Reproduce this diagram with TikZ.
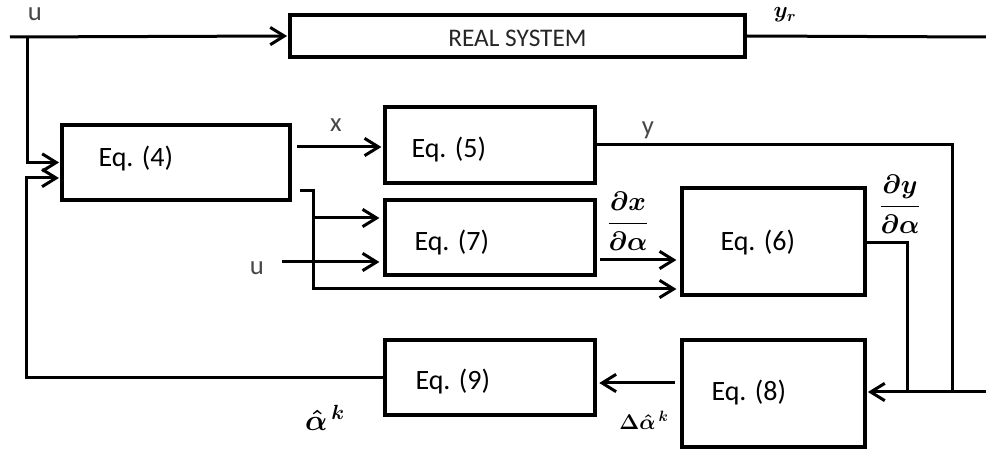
\RequirePackage{fix-cm}
\documentclass[tikz,border=0pt]{standalone}
\usepackage{amsmath,bm}
\usepackage{fontspec}
\setmainfont{Carlito}
\usetikzlibrary{arrows.meta,calc}
\begin{document}
\begin{tikzpicture}[x=0.75pt,y=-0.75pt,
  line width=2.25pt, line join=miter,
  box/.style 2 args={draw, line width=2.4pt, inner sep=0pt, anchor=center,
    minimum width=#1*0.75pt, minimum height=#2*0.75pt},
  eqtext/.style={anchor=west, inner sep=0pt, font=\fontsize{21}{24}\selectfont},
  sig/.style={inner sep=0pt, text=black!72, font=\fontsize{20}{24}\selectfont},
  mlabel/.style={inner sep=0pt, font=\fontsize{20}{24}\selectfont\boldmath},
  arr/.style={-{Straight Barb[length=10.5pt,width=13pt]}},
]
\useasboundingbox (0,0) rectangle (986,452);

% blocks
\node[box={455}{42}] (real) at (517.5,36) {};
\node[box={228}{75}] (eq4) at (176,162.5) {};
\node[box={210}{76}] (eq5) at (490,145) {};
\node[box={210}{75}] (eq7) at (490,237.5) {};
\node[box={183}{107}] (eq6) at (773.5,241.5) {};
\node[box={183}{107}] (eq8) at (773.5,393.5) {};
\node[box={210}{75}] (eq9) at (490,377.5) {};

% block texts
\node[inner sep=0pt, font=\fontsize{19}{22}\selectfont, text=black!85] (treal) at (517.5,38) {REAL SYSTEM};
\node[eqtext] (t4) at (97,159) {Eq. (4)};
\node[eqtext] (t5) at (410,150) {Eq. (5)};
\node[eqtext] (t7) at (413,243) {Eq. (7)};
\node[eqtext] (t6) at (719,243) {Eq. (6)};
\node[eqtext] (t8) at (710,393) {Eq. (8)};
\node[eqtext] (t9) at (414,382) {Eq. (9)};

% signal labels
\node[sig] (lu1) at (35,14) {u};
\node[sig] (lx) at (336,125) {x};
\node[sig] (ly) at (648,130) {y};
\node[sig] (lu2) at (257,268) {u};
\node[mlabel, font=\fontsize{17}{20}\selectfont\boldmath] (lyr) at (785,15) {$y_r$};
\node[mlabel] (ldx) at (628,221) {$\dfrac{\partial x}{\partial\alpha}$};
\node[mlabel] (ldy) at (900,204) {$\dfrac{\partial y}{\partial\alpha}$};
\node[mlabel, font=\fontsize{22}{26}\selectfont\boldmath] (lak) at (325,418) {$\hat{\alpha}^{\,k}$};
\node[mlabel, font=\fontsize{16}{19}\selectfont\boldmath] (ldak) at (644,420) {$\Delta\hat{\alpha}^{\,k}$};

% connection points
\coordinate (uin) at (10,37);
\coordinate (usplit) at (27,37);
\coordinate (yrout) at (986,37);
\coordinate (fbcorner) at (26,377.5);
\coordinate (xstart) at (297,147);
\coordinate (ycorner) at (952,145);
\coordinate (yjoin) at (952,392);
\coordinate (yrin) at (986,392);
\coordinate (dycorner) at (907,243);
\coordinate (dyjoin) at (907,392);
\coordinate (dstart) at (300,191);
\coordinate (dcorner) at (313,191);
\coordinate (dbranch) at (313,218);
\coordinate (dbottom) at (313,289);
\coordinate (u2start) at (282,262);
\coordinate (dxstart) at (600,260);
\coordinate (dastart) at (675,383);

% connectors
\draw[arr] (uin) -- ([xshift=-1pt]real.west);
\draw (real.east) -- (yrout);
\draw[arr] (usplit) |- ([xshift=-1pt]eq4.west);
\draw[arr] (eq9.west) -| (fbcorner) |- ($(eq4.west)+(-1.5,15.5)$);
\draw[arr] (xstart) -- ([xshift=-1.5pt]eq5.west |- xstart);
\draw (eq5.east |- ycorner) -- (ycorner) -- (yjoin);
\draw[arr] (yrin) -- ([xshift=1pt]eq8.east |- yrin);
\draw (eq6.east |- dycorner) -- (dycorner) -- (dyjoin);
\draw[arr] (dstart) -- (dcorner) -- (dbottom) -- ([xshift=-3pt]eq6.west |- dbottom);
\draw[arr] (dbranch) -- ([xshift=-3pt]eq7.west |- dbranch);
\draw[arr] (u2start) -- ([xshift=-3pt]eq7.west |- u2start);
\draw[arr] (dxstart) -- ([xshift=-3pt]eq6.west |- dxstart);
\draw[arr] (dastart) -- ([xshift=2pt]eq9.east |- dastart);
\end{tikzpicture}
\end{document}
